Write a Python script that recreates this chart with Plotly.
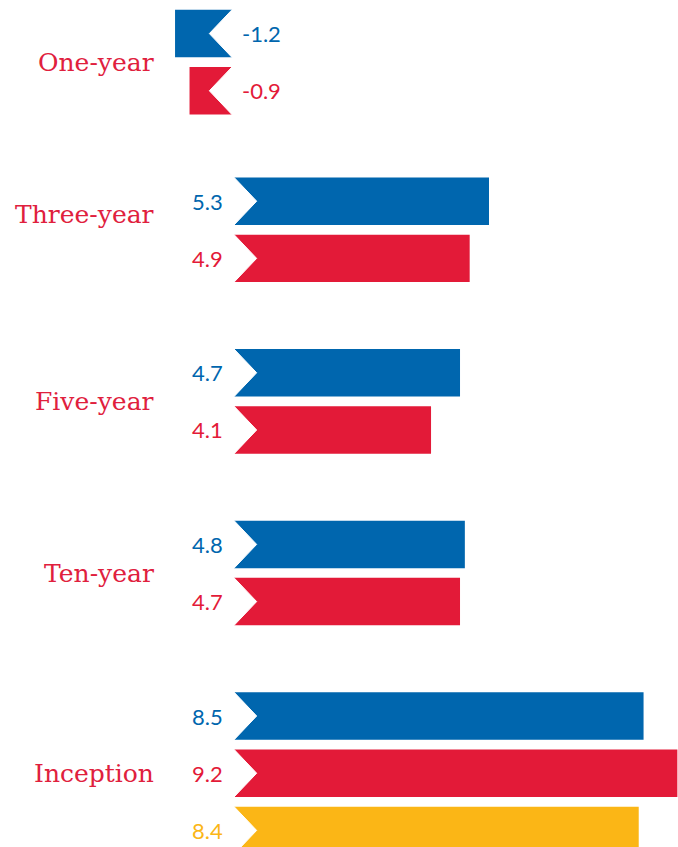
import plotly.graph_objects as go

# ---- data ----
periods = ["One-year", "Three-year", "Five-year", "Ten-year", "Inception"]
blue_values = [-1.2, 5.3, 4.7, 4.8, 8.5]
red_values = [-0.9, 4.9, 4.1, 4.7, 9.2]
yellow_values = [None, None, None, None, 8.4]

# ---- style ----
BLUE = "#0066AE"
RED = "#E31A38"
YELLOW = "#FBB616"
LABEL_RED = "#E0203D"
series = [(blue_values, BLUE), (red_values, RED), (yellow_values, YELLOW)]
SLOTS_PER_GROUP = 3
group_offset = [0.07, 0, 0, 0, 0]
BAR_W = 0.83
NOTCH = 0.49
label_yshift = [0, 15, 0, 0, 0]

fig = go.Figure()
shapes = []
annotations = []

for s_idx, (vals, color) in enumerate(series):
    ys, xs = [], []
    for g_idx, v in enumerate(vals):
        if v is None:
            continue
        ys.append(g_idx * SLOTS_PER_GROUP + s_idx + group_offset[g_idx])
        xs.append(v)
    fig.add_trace(go.Bar(x=xs, y=ys, orientation="h", width=BAR_W,
                         marker=dict(color=color, line=dict(width=0)),
                         showlegend=False, hoverinfo="x"))
    for x, y in zip(xs, ys):
        d = NOTCH if x >= 0 else -NOTCH
        h = BAR_W / 2
        shapes.append(dict(type="path", xref="x", yref="y",
                           path=f"M 0 {y - h - 0.02} L {d} {y} L 0 {y + h + 0.02} Z",
                           fillcolor="white", line=dict(color="white", width=1),
                           layer="above"))
        annotations.append(dict(x=0, y=y, xref="x", yref="y",
                                text=f"{x:.1f}", showarrow=False,
                                xanchor="right" if x >= 0 else "left",
                                xshift=-8 if x >= 0 else 7, yanchor="middle",
                                font=dict(family="Lato", size=22, color=color)))

for g_idx, name in enumerate(periods):
    n = sum(1 for vals, _ in series if vals[g_idx] is not None)
    yc = g_idx * SLOTS_PER_GROUP + (n - 1) / 2 + group_offset[g_idx]
    annotations.append(dict(x=0.230, y=yc, xref="paper", yref="y", text=name,
                            showarrow=False, xanchor="right", yanchor="middle",
                            yshift=label_yshift[g_idx],
                            font=dict(family="DejaVu Serif", size=25, color=LABEL_RED)))

fig.update_layout(
    width=678, height=847,
    margin=dict(l=0, r=0, t=0, b=0),
    paper_bgcolor="white", plot_bgcolor="white",
    barmode="overlay",
    xaxis=dict(range=[-4.824, 9.213], visible=False, fixedrange=True),
    yaxis=dict(range=[14.29, -0.517], visible=False, fixedrange=True),
    shapes=shapes, annotations=annotations,
)

fig.write_html("out.html", config={"displayModeBar": False},
               post_script="document.body.style.margin='0';document.body.style.overflow='hidden';")
